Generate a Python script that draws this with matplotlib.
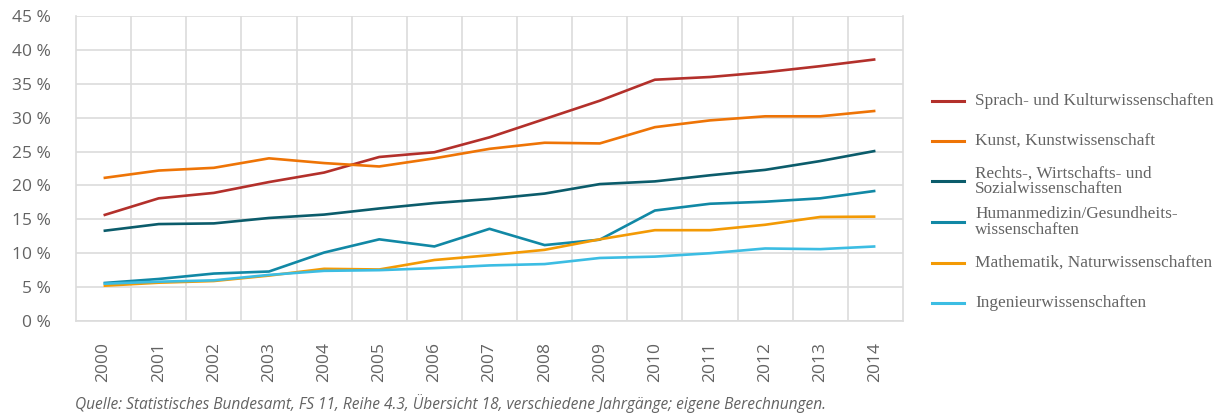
import numpy as np
import matplotlib.pyplot as plt
from matplotlib.lines import Line2D
from matplotlib.ticker import FuncFormatter, MultipleLocator

years = list(range(2000, 2015))

sprach_kultur = [15.6, 18.1, 18.9, 20.5, 21.9, 24.2, 24.9, 27.1, 29.8, 32.5, 35.6, 36.0, 36.7, 37.6, 38.6]
kunst = [21.1, 22.2, 22.6, 24.0, 23.3, 22.8, 24.0, 25.4, 26.3, 26.2, 28.6, 29.6, 30.2, 30.2, 31.0]
rechts_wiso = [13.3, 14.3, 14.4, 15.2, 15.7, 16.6, 17.4, 18.0, 18.8, 20.2, 20.6, 21.5, 22.3, 23.6, 25.1]
humanmedizin = [5.6, 6.2, 7.0, 7.3, 10.1, 12.05, 11.0, 13.6, 11.2, 12.0, 16.3, 17.3, 17.6, 18.1, 19.2]
mathe_natur = [5.2, 5.65, 5.9, 6.7, 7.7, 7.6, 9.0, 9.7, 10.5, 12.05, 13.4, 13.4, 14.2, 15.35, 15.4]
ingenieur = [5.5, 5.8, 6.0, 6.8, 7.4, 7.5, 7.8, 8.2, 8.4, 9.3, 9.5, 10.0, 10.7, 10.6, 11.0]

labels = [
    "Sprach- und Kulturwissenschaften",
    "Kunst, Kunstwissenschaft",
    "Rechts-, Wirtschafts- und\nSozialwissenschaften",
    "Humanmedizin/Gesundheits-\nwissenschaften",
    "Mathematik, Naturwissenschaften",
    "Ingenieurwissenschaften",
]
series = [sprach_kultur, kunst, rechts_wiso, humanmedizin, mathe_natur, ingenieur]
colors = ["#B3302B", "#EE7406", "#0B5C6B", "#1188A5", "#F39A05", "#3CBDE3"]

grid_col = "#dcdcdc"
text_col = "#636363"

fig = plt.figure(figsize=(12.31, 4.16), dpi=100)
W, H = 1231, 416
ax = fig.add_axes([76 / W, 1 - 321 / H, (903 - 76) / W, (321 - 16) / H])

x = np.arange(len(years))
for vals, col in zip(series, colors):
    ax.plot(x, vals, color=col, linewidth=1.9, solid_capstyle="butt", zorder=3)

ax.set_xlim(-0.5, len(years) - 0.5)
ax.set_ylim(0, 45)
ax.yaxis.set_major_locator(MultipleLocator(5))
ax.yaxis.set_major_formatter(FuncFormatter(lambda v, p: f"{int(v)} %"))
ax.set_xticks(x)
ax.set_xticklabels([str(y) for y in years], rotation=90, fontsize=12.5,
                   color=text_col, family="Open Sans")
ax.set_xticks(x[:-1] + 0.5, minor=True)
for lbl in ax.get_yticklabels():
    lbl.set_fontsize(12.5)
    lbl.set_color(text_col)
    lbl.set_family("Open Sans")

ax.grid(axis="y", color=grid_col, linewidth=1.2, zorder=0)
ax.grid(axis="x", which="minor", color=grid_col, linewidth=1.2, zorder=0)
ax.grid(axis="x", which="major", visible=False)
ax.tick_params(axis="both", which="both", length=0)
ax.tick_params(axis="x", pad=15)
ax.tick_params(axis="y", pad=18)
for s in ["left", "right", "bottom"]:
    ax.spines[s].set_color(grid_col)
    ax.spines[s].set_linewidth(1.2)
ax.spines["top"].set_visible(False)

# legend drawn by hand so that entries are evenly spaced
legend_y = [101, 141, 181, 222, 263, 303]
for lab, col, yy in zip(labels, colors, legend_y):
    fy = 1 - yy / H
    fig.add_artist(Line2D([932 / W, 964 / W], [fy, fy], color=col, linewidth=2.2,
                          transform=fig.transFigure))
    fig.text(975 / W, fy, lab, fontsize=12.4, family="Liberation Serif", color=text_col,
             va="center", ha="left", linespacing=0.95)

fig.text(75 / W, 1 - 404 / H,
         "Quelle: Statistisches Bundesamt, FS 11, Reihe 4.3, Übersicht 18, "
         "verschiedene Jahrgänge; eigene Berechnungen.",
         fontsize=11.2, style="italic", family="Open Sans", color=text_col, va="center")

fig.savefig("out.png", dpi=100)
